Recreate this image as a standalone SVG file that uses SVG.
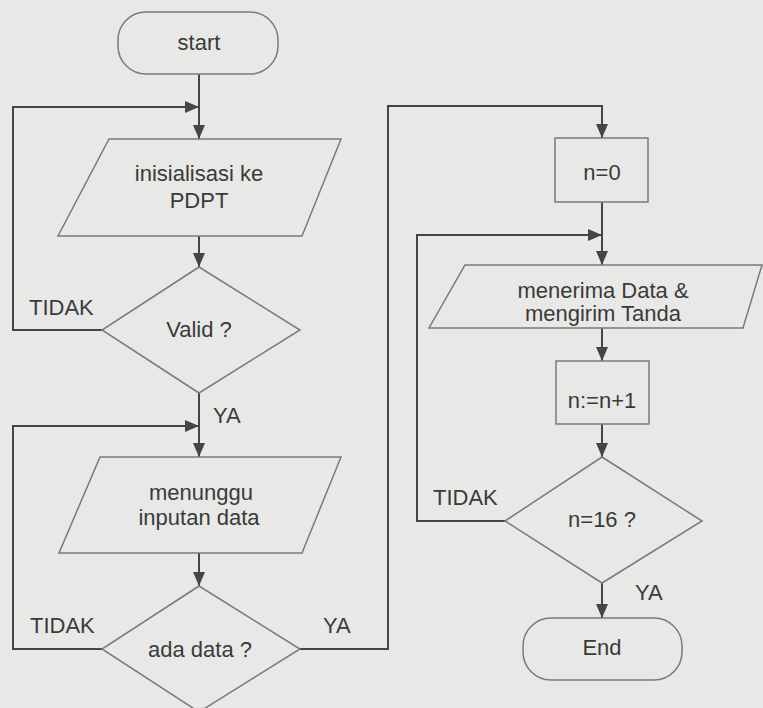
<svg xmlns="http://www.w3.org/2000/svg" width="763" height="708" viewBox="0 0 763 708">
<style>
.shape{fill:none;stroke:#7a7a7a;stroke-width:1.5}
.conn{fill:none;stroke:#454545;stroke-width:2}
.t{font-family:"Liberation Sans",Arial,sans-serif;font-size:22px;fill:#3a3a3a;text-anchor:middle}
.lbl{font-family:"Liberation Sans",Arial,sans-serif;font-size:22px;fill:#3a3a3a}
</style>
<defs>
<marker id="arr" markerUnits="userSpaceOnUse" markerWidth="14" markerHeight="12" refX="14" refY="6" orient="auto">
<path d="M0,0 L14,6 L0,12 z" fill="#454545"/>
</marker>
</defs>
<rect width="763" height="708" fill="#e8e8e6"/>
<g id="connectors">
<path class="conn" d="M199,74 V139" marker-end="url(#arr)"/>
<path class="conn" d="M102,330 H13 V107 H199" marker-end="url(#arr)"/>
<path class="conn" d="M199,236 V267" marker-end="url(#arr)"/>
<path class="conn" d="M199,393 V457" marker-end="url(#arr)"/>
<path class="conn" d="M102,649 H13 V426 H199" marker-end="url(#arr)"/>
<path class="conn" d="M199,553 V586" marker-end="url(#arr)"/>
<path class="conn" d="M300,649 H388 V106 H602 V138" marker-end="url(#arr)"/>
<path class="conn" d="M602,202 V265" marker-end="url(#arr)"/>
<path class="conn" d="M505,521 H417 V235 H602" marker-end="url(#arr)"/>
<path class="conn" d="M602,328 V361" marker-end="url(#arr)"/>
<path class="conn" d="M602,424 V457" marker-end="url(#arr)"/>
<path class="conn" d="M602,583 V618" marker-end="url(#arr)"/>
</g>
<g id="labels">
<text class="lbl" x="29" y="315">TIDAK</text>
<text class="lbl" x="213" y="423">YA</text>
<text class="lbl" x="30" y="633">TIDAK</text>
<text class="lbl" x="323" y="633">YA</text>
<text class="lbl" x="433" y="505">TIDAK</text>
<text class="lbl" x="635" y="600">YA</text>
</g>
<g id="start">
<rect class="shape" x="118" y="12" width="160" height="62" rx="28" ry="28"/>
<text class="t" x="199" y="50">start</text>
</g>
<g id="init">
<polygon class="shape" points="109,139 341,139 302,236 58,236"/>
<text class="t" x="199" y="181">inisialisasi ke</text>
<text class="t" x="199" y="208">PDPT</text>
</g>
<g id="valid">
<polygon class="shape" points="199,267 300,330 199,393 102,330"/>
<text class="t" x="199" y="337">Valid ?</text>
</g>
<g id="tunggu">
<polygon class="shape" points="100,457 341,457 302,553 59,553"/>
<text class="t" x="201" y="500">menunggu</text>
<text class="t" x="199" y="525">inputan data</text>
</g>
<g id="adadata">
<polygon class="shape" points="199,586 300,649 199,712 102,649"/>
<text class="t" x="200" y="657">ada data ?</text>
</g>
<g id="n0">
<rect class="shape" x="555" y="138" width="93" height="64"/>
<text class="t" x="602" y="180">n=0</text>
</g>
<g id="terima">
<polygon class="shape" points="465,265 762,265 743,328 429,328"/>
<text class="t" x="603" y="298">menerima Data &amp;</text>
<text class="t" x="603" y="321">mengirim Tanda</text>
</g>
<g id="inc">
<rect class="shape" x="556" y="361" width="93" height="63"/>
<text class="t" x="602" y="408">n:=n+1</text>
</g>
<g id="n16">
<polygon class="shape" points="602,457 702,521 602,583 505,521"/>
<text class="t" x="602" y="527">n=16 ?</text>
</g>
<g id="end">
<rect class="shape" x="523" y="618" width="159" height="62" rx="28" ry="28"/>
<text class="t" x="602" y="655">End</text>
</g>
</svg>
